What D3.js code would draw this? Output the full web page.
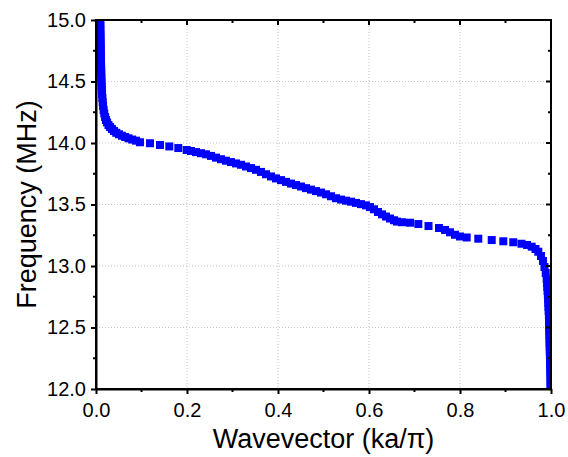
<!DOCTYPE html>
<html><head><meta charset="utf-8">
<script src="https://cdn.jsdelivr.net/npm/d3@7"></script>
<style>body{margin:0;background:#fff} text{font-family:"Liberation Sans",Arial,sans-serif;fill:#000}</style>
</head><body><svg id="c" width="568" height="457"></svg>
<script>
// data: wavevector (ka/pi) and frequency (MHz)
const wavevector = [
0.0092,0.0094,0.0096,0.0097,0.0099,0.0100,0.0102,0.0103,0.0105,0.0106,0.0108,0.0110,0.0112,0.0114,0.0116,0.0119,0.0122,0.0125,0.0129,0.0134,0.0140,0.0147,0.0156,0.0167,0.0182,0.0200,0.0220,0.0244,0.0275,0.0310,0.0350,0.0395,0.0445,0.0505,0.0570,0.0640,0.0715,0.0795,0.0880,
0.0967,0.1187,0.1407,0.1611,0.1809,
0.1993,0.2088,0.2198,0.2308,0.2418,0.2527,0.2637,0.2747,0.2857,0.2967,0.3077,0.3187,0.3297,0.3407,0.3516,0.3626,0.3736,0.3846,0.3956,0.4066,0.4176,0.4286,0.4396,0.4505,0.4615,0.4725,0.4835,0.4945,0.5055,0.5165,0.5275,0.5385,0.5495,0.5604,0.5714,0.5824,0.5934,0.6022,0.6110,0.6198,0.6286,0.6374,0.6462,0.6549,0.6615,
0.6725,0.6901,0.7084,0.7308,0.7538,0.7670,0.7780,0.7890,0.8000,0.8147,0.8402,0.8697,0.8952,0.9171,0.9352,0.9473,0.9576,0.9659,0.9721,0.9780,0.9824,0.9857,0.9884,0.9905,
0.9912,0.9919,0.9925,0.9932,0.9937,0.9941,0.9945,0.9949,0.9954,0.9956,0.9958,0.9960,0.9963,0.9965,0.9967,0.9969,0.9971,0.9974,0.9976,0.9978,0.9980,0.9982,0.9985,0.9987,0.9989,0.9989,0.9991,0.9991
];
const frequency = [
15.016,14.984,14.951,14.919,14.886,14.854,14.821,14.789,14.756,14.724,14.691,14.659,14.626,14.593,14.561,14.528,14.496,14.463,14.431,14.398,14.366,14.333,14.301,14.268,14.240,14.211,14.187,14.167,14.146,14.130,14.114,14.098,14.083,14.071,14.059,14.049,14.038,14.028,14.019,
14.006,13.998,13.984,13.972,13.959,
13.943,13.935,13.926,13.917,13.908,13.895,13.881,13.868,13.856,13.845,13.834,13.823,13.809,13.796,13.782,13.765,13.746,13.728,13.712,13.698,13.684,13.670,13.658,13.646,13.633,13.621,13.609,13.597,13.583,13.567,13.551,13.540,13.531,13.523,13.513,13.503,13.493,13.479,13.461,13.439,13.420,13.402,13.386,13.372,13.361,
13.356,13.352,13.341,13.325,13.309,13.293,13.274,13.254,13.240,13.232,13.222,13.211,13.201,13.193,13.181,13.171,13.157,13.138,13.116,13.081,13.041,12.992,12.943,12.894,
12.862,12.829,12.797,12.764,12.732,12.699,12.667,12.634,12.602,12.569,12.537,12.504,12.472,12.439,12.407,12.374,12.341,12.309,12.276,12.244,12.211,12.179,12.146,12.114,12.081,12.049,12.016,11.984
];
const xTicks = [0.0,0.2,0.4,0.6,0.8,1.0];
const xMinorTicks = [0.1,0.3,0.5,0.7,0.9];
const yTicks = [12.0,12.5,13.0,13.5,14.0,14.5,15.0];
const yMinorTicks = [12.25,12.75,13.25,13.75,14.25,14.75];
const xTitle = "Wavevector (ka/\u03C0)";
const yTitle = "Frequency (MHz)";

const L=96,R=551,T=20,B=389;
const svg = d3.select("#c");
const x = d3.scaleLinear().domain([0,1]).range([L,R]);
const y = d3.scaleLinear().domain([12,15]).range([B,T]);
const fmt = d3.format(".1f");

// grid
const grid = svg.append("g").attr("stroke","#c4c4c4").attr("stroke-width",1).attr("stroke-dasharray","1,2");
grid.selectAll(".gx").data(xTicks.slice(1,-1)).join("line")
  .attr("x1",d=>x(d)).attr("x2",d=>x(d)).attr("y1",T).attr("y2",B);
grid.selectAll(".gy").data(yTicks.slice(1,-1)).join("line")
  .attr("x1",L).attr("x2",R).attr("y1",d=>y(d)).attr("y2",d=>y(d));

// data
svg.append("clipPath").attr("id","clip").append("rect").attr("x",L).attr("y",T).attr("width",R-L).attr("height",B-T);
const pts = wavevector.map((k,i)=>({k, f:frequency[i]}));
const s = 8;
svg.append("g").attr("clip-path","url(#clip)").selectAll("rect").data(pts).join("rect")
  .attr("x",d=>x(d.k)-s/2).attr("y",d=>y(d.f)-s/2).attr("width",s).attr("height",s)
  .attr("fill","#0000ff");

// axes
function styleAxis(g){
  g.selectAll("path").attr("stroke","#000").attr("stroke-width",2);
  g.selectAll("line").attr("stroke","#000").attr("stroke-width",2);
  g.selectAll("text").style("font-size","20px").style("font-family",'"Liberation Sans",Arial,sans-serif');
}
const xAxis = svg.append("g").attr("transform",`translate(0,${B})`)
  .call(d3.axisBottom(x).tickValues(xTicks).tickFormat(fmt).tickSize(5).tickSizeOuter(0).tickPadding(9));
styleAxis(xAxis);
const yAxis = svg.append("g").attr("transform",`translate(${L},0)`)
  .call(d3.axisLeft(y).tickValues(yTicks).tickFormat(fmt).tickSize(5).tickSizeOuter(0).tickPadding(5));
styleAxis(yAxis);

// minor ticks bottom/left (outward)
const tk = svg.append("g").attr("stroke","#000").attr("stroke-width",2);
tk.selectAll(".mb").data(xMinorTicks).join("line").attr("x1",d=>x(d)).attr("x2",d=>x(d)).attr("y1",B).attr("y2",B+3);
tk.selectAll(".ml").data(yMinorTicks).join("line").attr("y1",d=>y(d)).attr("y2",d=>y(d)).attr("x1",L).attr("x2",L-3);
// top/right mirrored ticks (inward)
tk.selectAll(".tt").data(xTicks).join("line").attr("x1",d=>x(d)).attr("x2",d=>x(d)).attr("y1",T).attr("y2",T+5);
tk.selectAll(".tm").data(xMinorTicks).join("line").attr("x1",d=>x(d)).attr("x2",d=>x(d)).attr("y1",T).attr("y2",T+3);
tk.selectAll(".rt").data(yTicks).join("line").attr("y1",d=>y(d)).attr("y2",d=>y(d)).attr("x1",R).attr("x2",R-5);
tk.selectAll(".rm").data(yMinorTicks).join("line").attr("y1",d=>y(d)).attr("y2",d=>y(d)).attr("x1",R).attr("x2",R-3);

// frame
svg.append("rect").attr("x",L).attr("y",T).attr("width",R-L).attr("height",B-T)
  .attr("fill","none").attr("stroke","#000").attr("stroke-width",2);

// titles
svg.append("text").attr("x",(L+R)/2).attr("y",448).attr("text-anchor","middle")
  .style("font-size","27px").text(xTitle);
svg.append("text").attr("transform",`translate(36,${(T+B)/2}) rotate(-90)`).attr("text-anchor","middle")
  .style("font-size","27px").text(yTitle);
</script></body></html>
